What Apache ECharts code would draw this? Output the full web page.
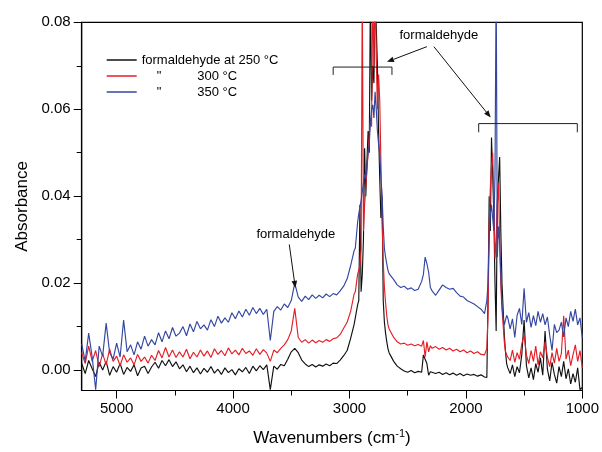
<!DOCTYPE html>
<html><head><meta charset="utf-8">
<script src="https://cdn.jsdelivr.net/npm/echarts@6/dist/echarts.min.js"></script>
<style>html,body{margin:0;padding:0;background:#fff}#c{width:602px;height:452px}</style>
</head><body><div id="c"></div>
<script>
// Wavenumbers (cm-1), shared by all three spectra
const wavenumbers = [
5300,5270,5240,5210,5180,5150,5120,5090,5060,5030,
5000,4970,4940,4910,4880,4850,4820,4790,4760,4730,
4700,4670,4640,4610,4580,4550,4520,4490,4460,4430,
4400,4370,4340,4310,4280,4250,4220,4190,4160,4130,
4100,4070,4040,4010,3980,3950,3920,3890,3860,3830,
3800,3770,3740,3710,3680,3650,3620,3590,3560,3530,
3500,3470,3440,3410,3380,3350,3320,3290,3260,3230,
3200,3170,3140,3110,3080,3050,3020,2990,2960,
2950,2940,2930,2920,2910,2900,2890,2880,2870,2860,2850,2840,2830,2820,2810,2800,
2790,2780,2770,2760,2750,2740,2730,2720,2710,2700,2690,2680,2670,2660,2650,
2620,2590,2560,2530,2500,2470,2440,2410,2380,2365,2350,2335,2320,2305,2290,
2260,2230,2200,2170,2140,2110,2080,2050,2020,1990,1960,1930,1900,1870,1840,
1830,1820,1810,1800,1790,1780,1770,1760,1750,1740,1730,1720,1710,1700,1690,1680,1670,1660,1650,
1640,1620,1600,1580,1560,1540,1520,1500,1480,1460,1440,1420,1400,1380,1360,1340,1320,
1300,1280,1260,1240,1220,1200,1180,1160,1140,1120,1100,1080,1060,1040,1020,1000
];
// Absorbance in units of 0.001
const abs250 = [
1.5,-0.8,2.2,0.3,-1.5,1.8,0.0,2.0,-1.2,0.8,
-0.5,1.5,-1.0,0.6,-0.3,1.2,-1.3,0.5,0.9,-0.8,
0.7,1.8,0.4,2.2,1.0,2.4,0.8,1.9,0.3,1.2,
-0.4,0.9,-0.6,0.5,-0.9,0.4,-0.5,0.8,-0.7,0.2,
-1.0,0.5,-0.6,0.1,-1.1,0.3,-0.4,0.6,-0.8,0.9,
-0.2,1.0,0.1,1.2,-4.5,0.9,0.2,1.3,1.0,2.5,
4.2,5.0,4.0,2.3,1.4,0.8,1.3,0.7,1.2,0.9,
1.4,1.0,1.6,1.5,2.3,3.3,4.5,7.3,10.5,
12,13.5,15,16,38,18,22,30,51,40,48,55,50,88,62,70,
66,88,88,70,55,44,35,40,16,11,8.5,6.6,5,4,3.5,
2.0,0.9,0.3,-0.2,-0.5,-0.1,-0.6,-0.3,-0.5,3.5,2.5,1.5,-1.2,-0.4,-0.2,
-0.8,-0.5,-1.0,-0.6,-1.1,-0.7,-1.2,-0.8,-1.3,-0.9,-1.2,-1.0,-1.4,-1.1,-1.6,
-1.5,-1.7,16.5,40,32,53.5,45,35.5,20,9,39,44,49,32,20,14,8,4.3,1.5,
0.5,-0.8,1.2,-1.5,0.8,-0.6,3.5,11.5,1.0,-1.8,0.5,-2.2,1.5,-0.5,2.8,-1.2,9.0,
0.2,-2.5,1.8,-1.0,-3.0,0.8,-1.5,2.0,-2.0,0.3,-3.2,-0.8,-2.8,0.5,-4.5,-4.0
];
const abs300 = [
4.0,1.5,5.5,2.0,4.5,0.8,3.8,1.2,4.8,2.0,
3.2,1.0,3.5,1.8,2.8,1.2,3.6,2.0,3.0,1.6,
3.4,2.2,4.5,2.8,5.2,3.0,4.6,2.9,4.2,3.0,
4.8,2.6,4.1,3.0,4.6,3.2,4.4,2.9,4.9,3.6,
4.5,3.3,5.1,3.7,4.6,3.5,5.0,3.8,4.4,3.4,
4.9,3.6,4.7,3.9,2.0,4.6,4.0,5.0,5.8,7.0,
9.0,14.2,7.5,6.4,7.0,6.2,6.9,6.3,6.8,6.4,
7.0,6.6,7.2,7.4,8.2,9.6,11.0,13.5,17.5,
18,20,22,23,24,28,88,32,38,42,46,50,54,58,56,88,
70,88,72,60,68,62,48,35,25,19,15.5,12.6,10.5,9.5,9,
7.5,6.5,6.0,6.2,5.7,6.0,5.6,5.9,5.5,6.8,3.0,6.5,4.2,5.6,5.0,
5.4,4.8,5.2,4.6,5.0,4.4,4.8,4.2,4.6,4.0,4.4,3.8,4.2,3.6,3.5,
3.4,5,12.6,33,42,47,50,39,25.6,30,38,43,30,19.5,14,10.4,6.5,4.3,3.5,
3.0,2.2,4.6,1.8,4.0,2.5,6.0,8.0,3.5,1.5,4.5,2.0,5.5,1.2,4.2,2.8,6.5,
3.0,0.8,4.0,1.6,5.0,2.0,3.8,12.5,2.5,4.6,1.0,3.5,5.8,2.0,4.5,0.5
];
const abs350 = [
6.0,2.0,8.5,3.0,-4.5,5.5,3.2,10.8,4.0,2.5,
6.2,3.0,11.5,4.2,5.8,3.5,6.5,4.8,7.8,5.5,
7.0,5.8,8.6,6.5,9.0,7.2,9.8,7.8,8.5,10.0,
7.9,10.6,8.8,11.2,9.5,10.4,9.2,11.6,10.0,12.4,
10.8,12.0,11.0,13.2,11.8,13.6,12.2,14.0,12.6,14.4,
13.0,14.2,12.8,14.0,6.8,13.5,14.6,13.8,15.2,14.4,
16.0,20.0,16.8,15.8,17.0,16.2,17.3,16.5,17.2,16.6,
17.5,16.9,17.6,17.3,18.2,19.3,21.0,24.0,27.5,
28,31,34,36,37.5,39,41,43,45,44,47,50,52,57,60,61,
58,64,60,55,52,50,44,40.5,33,28,26,24.5,23,22.2,21.8,
20.8,19.6,19.0,19.3,18.6,18.9,18.3,18.6,20.4,22.0,26.0,24.5,22.5,19.0,18.2,
17.2,18.4,19.6,19.0,18.6,18.8,17.8,17.0,16.8,16.0,15.6,15.2,14.6,14.0,13.0,
12.6,16,20,30,36,38,35,32,45,90,26,33,29.5,21.8,15,12,10.4,11.5,12.6,
12.0,9.5,11.8,7.5,12.6,14.2,10.5,18.8,11.0,13.2,9.8,12.5,10.2,13.5,11.0,13.0,10.4,
12.2,8.0,4.5,10.5,8.6,9.2,11.0,7.6,12.0,10.0,13.5,11.2,14.0,10.4,12.0,7.4
];
const seriesNames = ['250 °C', '300 °C', '350 °C'];
const seriesColors = ['#111111', '#e41e26', '#3346a0'];
const xTickMajor = [5000, 4000, 3000, 2000, 1000];
const xTickMinor = [4500, 3500, 2500, 1500];
const yTickMajor = [0, 20, 40, 60, 80];
const yTickMinor = [10, 30, 50, 70];

const FONT = '"Liberation Sans", Arial, Helvetica, sans-serif';
function pairs(vals) { return wavenumbers.map((w, i) => [w, vals[i]]); }

const chart = echarts.init(document.getElementById('c'), null, {renderer: 'canvas'});
const xBase = {type: 'value', min: 1000, max: 5300, inverse: true, position: 'bottom', splitLine: {show: false}};
const yBase = {type: 'value', min: -4.7, max: 80, position: 'left', splitLine: {show: false}};
chart.setOption({
  animation: false,
  textStyle: {fontFamily: FONT},
  grid: {left: 81.7, right: 18.7, top: 22.3, bottom: 59.3, show: true, borderColor: '#000', borderWidth: 1.2, backgroundColor: 'transparent'},
  xAxis: [
    Object.assign({}, xBase, {
      axisLine: {show: true, onZero: false, lineStyle: {color: '#000', width: 1.2}},
      axisTick: {show: true, customValues: xTickMajor, length: 8, lineStyle: {color: '#000', width: 1}},
      axisLabel: {customValues: xTickMajor, color: '#000', fontSize: 15, margin: 11, fontFamily: FONT,
        formatter: v => String(v)},
      name: 'Wavenumbers (cm{sup|-1})', nameLocation: 'middle', nameGap: 38,
      nameTextStyle: {fontSize: 17, color: '#000', fontFamily: FONT, rich: {sup: {fontSize: 11, padding: [0, 0, 9, 0], fontFamily: FONT, color: '#000'}}}
    }),
    Object.assign({}, xBase, {
      axisLine: {show: false, onZero: false},
      axisTick: {show: true, customValues: xTickMinor, length: 5, lineStyle: {color: '#000', width: 1}},
      axisLabel: {show: false}
    })
  ],
  yAxis: [
    Object.assign({}, yBase, {
      axisLine: {show: true, onZero: false, lineStyle: {color: '#000', width: 1.2}},
      axisTick: {show: true, customValues: yTickMajor, length: 8, lineStyle: {color: '#000', width: 1}},
      axisLabel: {customValues: yTickMajor, color: '#000', fontSize: 15, margin: 11, fontFamily: FONT,
        formatter: v => (v / 1000).toFixed(2)},
      name: 'Absorbance', nameLocation: 'middle', nameGap: 49,
      nameTextStyle: {fontSize: 17, color: '#000', fontFamily: FONT}
    }),
    Object.assign({}, yBase, {
      axisLine: {show: false, onZero: false},
      axisTick: {show: true, customValues: yTickMinor, length: 5, lineStyle: {color: '#000', width: 1}},
      axisLabel: {show: false}
    })
  ],
  legend: {
    orient: 'vertical', left: 101.7, top: 47, itemWidth: 30, itemHeight: 1.5, itemGap: 0,
    icon: 'rect', selectedMode: false, data: seriesNames,
    formatter: n => n === seriesNames[0] ? 'formaldehyde at 250 °C' : '{q|"}' + n,
    textStyle: {fontSize: 13, color: '#000', lineHeight: 16, fontFamily: FONT,
      rich: {q: {fontSize: 13, lineHeight: 16, padding: [0, 36, 0, 15], fontFamily: FONT, color: '#000'}}}
  },
  series: seriesNames.map((n, i) => ({
    name: n, type: 'line', xAxisIndex: 0, yAxisIndex: 0,
    data: pairs([abs250, abs300, abs350][i]),
    symbol: 'none', showSymbol: false, silent: true, clip: true,
    color: seriesColors[i],
    lineStyle: {color: seriesColors[i], width: 1.15},
    z: 2 + i
  }))
});

// Annotations, placed in data coordinates (wavenumber, absorbance x 1000)
const annotLabels = [
  {text: 'formaldehyde', at: [2232, 76.9]},
  {text: 'formaldehyde', at: [3461, 31.2]}
];
const annotArrows = [
  [[2335, 74.4], [2678, 70.9]],
  [[2275, 74.4], [1787, 58.1]],
  [[3517, 28.9], [3465, 18.9]]
];
const annotBrackets = [
  {from: 3140, to: 2635, y: 69.7, drop: 1.8},
  {from: 1890, to: 1043, y: 56.7, drop: 2.0}
];

function px(p) { return chart.convertToPixel({xAxisIndex: 0, yAxisIndex: 0}, p); }
const els = [];
annotLabels.forEach(l => {
  const p = px(l.at);
  els.push({type: 'text', x: p[0], y: p[1], silent: true, z: 100,
    style: {text: l.text, fill: '#000', font: '13px ' + FONT, align: 'center', verticalAlign: 'middle',
      textAlign: 'center', textVerticalAlign: 'middle'}});
});
annotArrows.forEach(a => {
  const s = px(a[0]), e = px(a[1]);
  const dx = e[0] - s[0], dy = e[1] - s[1], L = Math.hypot(dx, dy);
  const ux = dx / L, uy = dy / L, hl = 7, hw = 2.8;
  const bx = e[0] - ux * hl, by = e[1] - uy * hl;
  els.push({type: 'line', silent: true, z: 100, shape: {x1: s[0], y1: s[1], x2: bx, y2: by},
    style: {stroke: '#111', lineWidth: 1}});
  els.push({type: 'polygon', silent: true, z: 100,
    shape: {points: [[e[0], e[1]], [bx - uy * hw, by + ux * hw], [bx + uy * hw, by - ux * hw]]},
    style: {fill: '#111'}});
});
annotBrackets.forEach(b => {
  const a1 = px([b.from, b.y - b.drop]), a2 = px([b.from, b.y]), a3 = px([b.to, b.y]), a4 = px([b.to, b.y - b.drop]);
  els.push({type: 'polyline', silent: true, z: 100, shape: {points: [a1, a2, a3, a4]},
    style: {stroke: '#222', lineWidth: 1, fill: null}});
});
chart.setOption({graphic: {elements: els}});
</script>
</body></html>
